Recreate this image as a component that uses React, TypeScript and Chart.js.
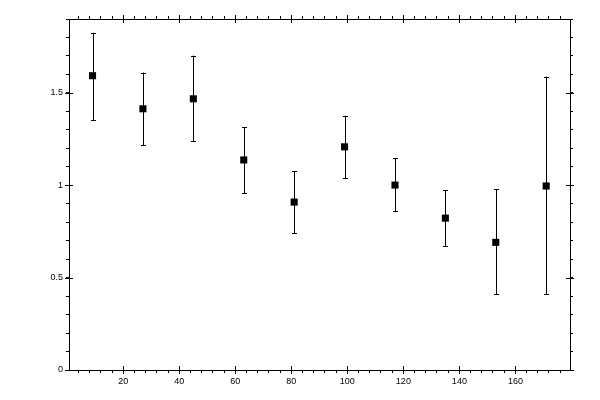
import { useEffect, useRef } from 'react';
import { Chart, registerables, ChartConfiguration, Plugin } from 'chart.js';

Chart.register(...registerables);

// bin centres and measured means with their error bounds
const binCenters = [9, 27, 45, 63, 81, 99, 117, 135, 153, 171];
const means = [1.593, 1.414, 1.468, 1.137, 0.909, 1.208, 1.001, 0.822, 0.691, 0.996];
const upper = [1.825, 1.61, 1.702, 1.314, 1.077, 1.376, 1.148, 0.974, 0.979, 1.588];
const lower = [1.354, 1.218, 1.24, 0.958, 0.74, 1.039, 0.86, 0.67, 0.409, 0.409];

// axis ticks
const xMajorTicks = [20, 40, 60, 80, 100, 120, 140, 160];
const xMinorStep = 4;
const yMajorTicks = [0, 0.5, 1, 1.5];
const yMinorStep = 0.1;

const X_MIN = 0.6;
const X_MAX = 179.5;
const Y_MIN = 0;
const Y_MAX = 1.9;

const FONT = { family: '"Liberation Sans", Arial, sans-serif', size: 9 };

function minorTicks(min: number, max: number, step: number) {
  const out: { value: number }[] = [];
  const start = Math.ceil(min / step - 1e-9);
  const end = Math.floor(max / step + 1e-9);
  for (let i = start; i <= end; i++) out.push({ value: +(i * step).toFixed(4) });
  return out;
}

const isMajor = (v: number, list: number[]) => list.some((m) => Math.abs(m - v) < 1e-6);

// error bars drawn under the markers
const errorBars: Plugin = {
  id: 'errorBars',
  beforeDatasetsDraw(chart) {
    const { ctx } = chart;
    const xs = chart.scales.x;
    const ys = chart.scales.y;
    ctx.save();
    ctx.strokeStyle = '#000';
    ctx.lineWidth = 1;
    binCenters.forEach((c, i) => {
      const px = Math.round(xs.getPixelForValue(c)) + 0.5;
      const top = ys.getPixelForValue(upper[i]);
      const bot = ys.getPixelForValue(lower[i]);
      ctx.beginPath();
      ctx.moveTo(px, top);
      ctx.lineTo(px, bot);
      ctx.moveTo(px - 2.5, Math.round(top) + 0.5);
      ctx.lineTo(px + 2.5, Math.round(top) + 0.5);
      ctx.moveTo(px - 2.5, Math.round(bot) + 0.5);
      ctx.lineTo(px + 2.5, Math.round(bot) + 0.5);
      ctx.stroke();
    });
    ctx.restore();
  },
};

// major ticks cross the frame on all four sides
const majorTicks: Plugin = {
  id: 'majorTicks',
  afterDraw(chart) {
    const { ctx, chartArea } = chart;
    const xs = chart.scales.x;
    const ys = chart.scales.y;
    ctx.save();
    ctx.strokeStyle = '#000';
    ctx.lineWidth = 1;
    ctx.beginPath();
    xMajorTicks.forEach((v) => {
      const px = Math.round(xs.getPixelForValue(v)) + 0.5;
      ctx.moveTo(px, chartArea.bottom - 4);
      ctx.lineTo(px, chartArea.bottom + 4);
      ctx.moveTo(px, chartArea.top - 4);
      ctx.lineTo(px, chartArea.top + 4);
    });
    yMajorTicks.forEach((v) => {
      const py = Math.round(ys.getPixelForValue(v)) + 0.5;
      ctx.moveTo(chartArea.left - 4, py);
      ctx.lineTo(chartArea.left + 4, py);
      ctx.moveTo(chartArea.right - 4, py);
      ctx.lineTo(chartArea.right + 4, py);
    });
    ctx.stroke();
    ctx.restore();
  },
};

const frameAxis = {
  border: { display: true, color: '#000', width: 1 },
  grid: { drawOnChartArea: false, tickLength: 3, color: '#000', tickColor: '#000' },
};

export default function App() {
  const canvasRef = useRef<HTMLCanvasElement>(null);

  useEffect(() => {
    if (!canvasRef.current) return;

    const config = {
      type: 'scatter',
      data: {
        datasets: [
          {
            data: binCenters.map((c, i) => ({ x: c, y: means[i] })),
            pointStyle: 'rect',
            pointRadius: 5,
            pointBorderWidth: 0,
            backgroundColor: '#000',
            borderColor: '#000',
          },
        ],
      },
      options: {
        animation: false,
        responsive: true,
        maintainAspectRatio: false,
        layout: { padding: 0 },
        plugins: { legend: { display: false }, tooltip: { enabled: false } },
        scales: {
          x: {
            type: 'linear',
            position: 'bottom',
            min: X_MIN,
            max: X_MAX,
            ...frameAxis,
            afterBuildTicks: (s: any) => { s.ticks = minorTicks(X_MIN, X_MAX, xMinorStep); },
            afterFit: (s: any) => { s.height = 30; },
            ticks: {
              color: '#000',
              font: FONT,
              padding: 3,
              maxRotation: 0,
              autoSkip: false,
              callback: (v: number) => (isMajor(v, xMajorTicks) ? String(v) : ''),
            },
          },
          x2: {
            type: 'linear',
            position: 'top',
            min: X_MIN,
            max: X_MAX,
            ...frameAxis,
            afterBuildTicks: (s: any) => { s.ticks = minorTicks(X_MIN, X_MAX, xMinorStep); },
            afterFit: (s: any) => { s.height = 19; },
            ticks: { display: false },
          },
          y: {
            type: 'linear',
            position: 'left',
            min: Y_MIN,
            max: Y_MAX,
            ...frameAxis,
            afterBuildTicks: (s: any) => { s.ticks = minorTicks(Y_MIN, Y_MAX, yMinorStep); },
            afterFit: (s: any) => { s.width = 69; },
            ticks: {
              color: '#000',
              font: FONT,
              padding: 3,
              autoSkip: false,
              callback: (v: number) => (isMajor(v, yMajorTicks) ? String(v) : ''),
            },
          },
          y2: {
            type: 'linear',
            position: 'right',
            min: Y_MIN,
            max: Y_MAX,
            ...frameAxis,
            afterBuildTicks: (s: any) => { s.ticks = minorTicks(Y_MIN, Y_MAX, yMinorStep); },
            afterFit: (s: any) => { s.width = 30; },
            ticks: { display: false },
          },
        },
      },
      plugins: [errorBars, majorTicks],
    } as unknown as ChartConfiguration;

    const chart = new Chart(canvasRef.current, config);
    return () => chart.destroy();
  }, []);

  return (
    <div style={{ position: 'absolute', left: 0, top: 0, width: 600, height: 400, background: '#fff' }}>
      <canvas ref={canvasRef} />
    </div>
  );
}
